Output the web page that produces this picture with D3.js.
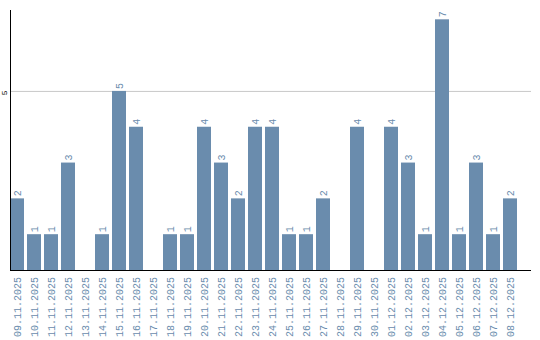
<!DOCTYPE html>
<html>
<head>
<meta charset="utf-8">
<script src="https://cdn.jsdelivr.net/npm/d3@7"></script>
<style>
  body { margin: 0; background: #fff; }
  text { font-family: "Liberation Mono", "DejaVu Sans Mono", monospace; }
</style>
</head>
<body>
<div id="chart"></div>
<script>
var width = 540;
var height = 340;

var days = ['09.11.2025','10.11.2025','11.11.2025','12.11.2025','13.11.2025','14.11.2025',
  '15.11.2025','16.11.2025','17.11.2025','18.11.2025','19.11.2025','20.11.2025','21.11.2025',
  '22.11.2025','23.11.2025','24.11.2025','25.11.2025','26.11.2025','27.11.2025','28.11.2025',
  '29.11.2025','30.11.2025','01.12.2025','02.12.2025','03.12.2025','04.12.2025','05.12.2025',
  '06.12.2025','07.12.2025','08.12.2025'];
var counts = [2,1,1,3,0,1,5,4,0,1,1,4,3,2,4,4,1,1,2,0,4,0,4,3,1,7,1,3,1,2];
var yTicks = [5];

var barColor = '#6a8cad';

var svg = d3.select("#chart")
    .append("svg")
    .attr("width", width)
    .attr("height", height)

var x = d3.scaleBand()
    .domain(days)
    .range([10, 517])
    .paddingInner(3 / 17)
    .paddingOuter(0)

var y = d3.scaleLinear()
    .domain([0, 7.26])
    .range([270, 10])

// grid line at 5
svg.selectAll(".grid")
    .data(yTicks)
    .enter()
    .append("line")
    .attr("x1", 10)
    .attr("x2", 531)
    .attr("y1", function (d) { return y(d) + 0.5 })
    .attr("y2", function (d) { return y(d) + 0.5 })
    .attr("stroke", "#c8c8c8")
    .attr("stroke-width", 1)

svg.selectAll(".bar")
    .data(counts)
    .enter()
    .append("rect")
    .attr("x", function (d, i) { return x(days[i]) })
    .attr("y", function (d) { return y(d) })
    .attr("width", x.bandwidth())
    .attr("height", function (d) { return y(0) - y(d) })
    .attr("fill", barColor)

// value labels on top of bars (skip zeros)
counts.forEach(function (d, i) {
  if (d <= 0) return
  var cx = x(days[i]) + x.bandwidth() / 2
  svg.append("text")
      .attr("transform", "translate(" + cx + "," + (y(d) - 2) + ") rotate(-90)")
      .attr("dy", "0.35em")
      .attr("text-anchor", "start")
      .attr("font-size", "10px")
      .attr("fill", barColor)
      .text(d)
})

// x labels
svg.selectAll(".xlab")
    .data(days)
    .enter()
    .append("text")
    .attr("transform", function (d) {
      return "translate(" + (x(d) + x.bandwidth() / 2) + ",277) rotate(-90)"
    })
    .attr("dy", "0.35em")
    .attr("text-anchor", "end")
    .attr("font-size", "10px")
    .attr("fill", barColor)
    .text(function (d) { return d })

// y tick labels
svg.selectAll(".ylab")
    .data(yTicks)
    .enter()
    .append("text")
    .attr("transform", function (d) { return "translate(4," + (y(d) + 2) + ") rotate(-90)" })
    .attr("dy", "0.35em")
    .attr("text-anchor", "middle")
    .attr("font-size", "8px")
    .attr("fill", "#000")
    .text(function (d) { return d })

// axis lines
svg.append("line")
    .attr("x1", 10.5).attr("x2", 10.5)
    .attr("y1", 10).attr("y2", 271)
    .attr("stroke", "#000")
svg.append("line")
    .attr("x1", 10).attr("x2", 531)
    .attr("y1", 270.5).attr("y2", 270.5)
    .attr("stroke", "#000")
</script>
</body>
</html>
